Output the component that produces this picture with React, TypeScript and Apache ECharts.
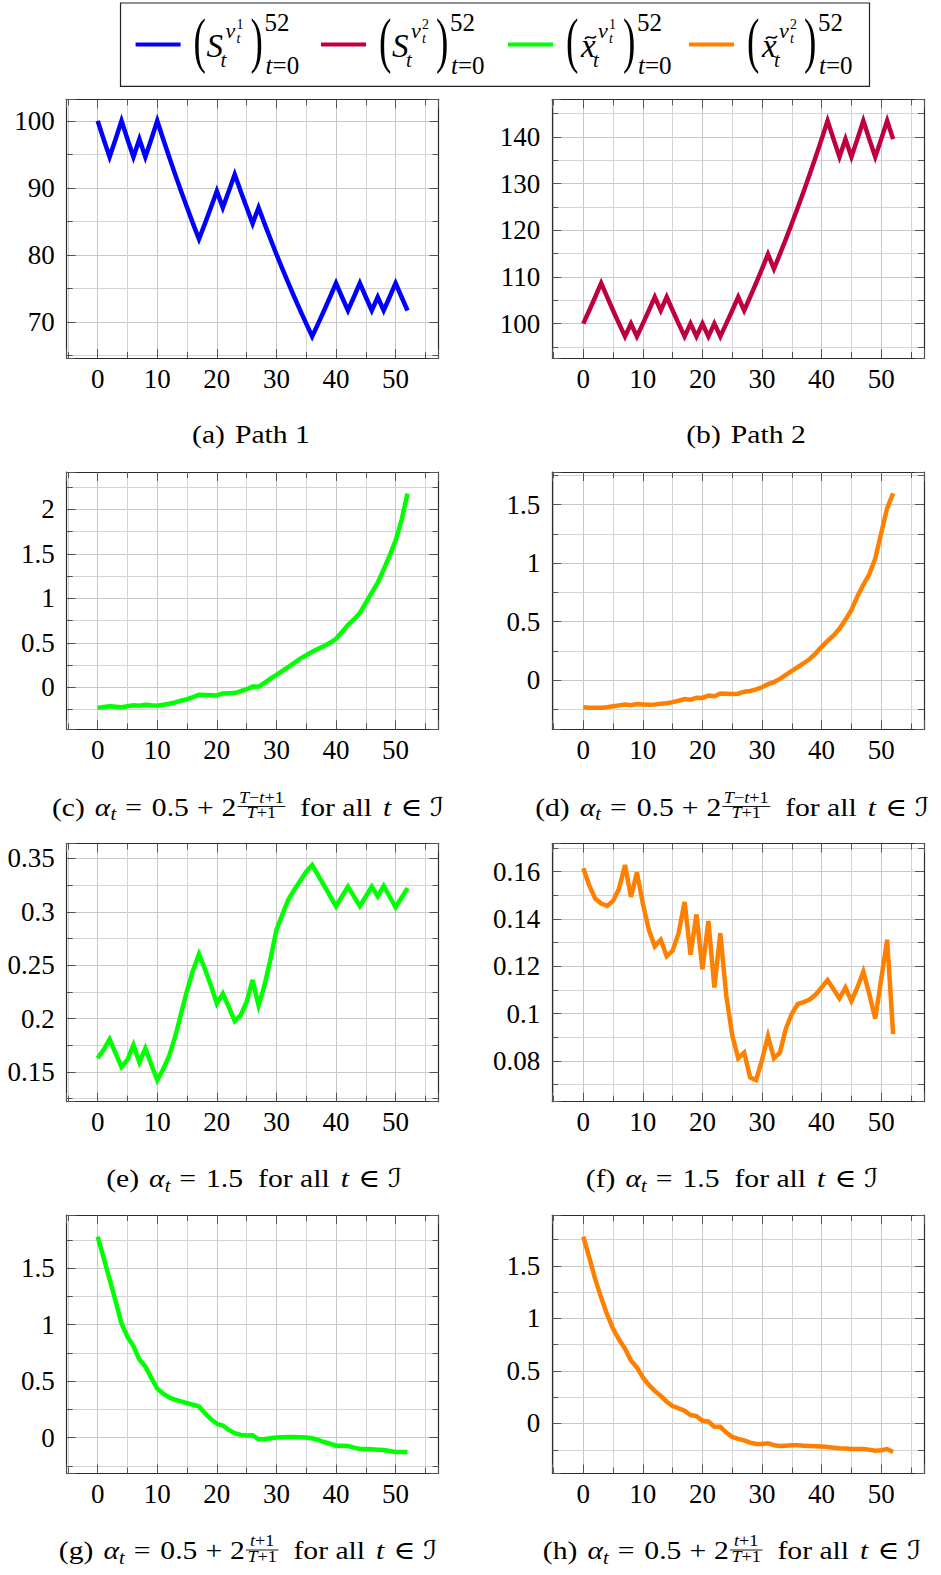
import React, { useEffect, useRef } from 'react';
import * as echarts from 'echarts';

const WIDTH = 941;
const HEIGHT = 1575;

// time steps t = 0..52
const weeks: number[] = Array.from({ length: 53 }, (_, i) => i);

// (a) price path 1
const pathOne = [
  100, 97.26, 94.6, 97.26, 100, 97.26, 94.6, 97.26, 94.6, 97.26, 100, 97.26, 94.6, 92.01, 89.5, 87.05, 84.66,
  82.35, 84.66, 87.05, 89.5, 87.05, 89.5, 92.01, 89.5, 87.05, 84.66, 87.05, 84.66, 82.35, 80.09, 77.9, 75.77,
  73.7, 71.68, 69.72, 67.81, 69.72, 71.68, 73.7, 75.77, 73.7, 71.68, 73.7, 75.77, 73.7, 71.68, 73.7, 71.68,
  73.7, 75.77, 73.7, 71.68,
];

// (b) price path 2
const pathTwo = [
  100, 102.81, 105.71, 108.68, 105.71, 102.81, 100, 97.26, 100, 97.26, 100, 102.81, 105.71, 102.81, 105.71,
  102.81, 100, 97.26, 100, 97.26, 100, 97.26, 100, 97.26, 100, 102.81, 105.71, 102.81, 105.71, 108.68, 111.74,
  114.88, 111.74, 114.88, 118.11, 121.44, 124.86, 128.36, 131.98, 135.69, 139.51, 143.43, 139.51, 135.69,
  139.51, 135.69, 139.51, 143.43, 139.51, 135.69, 139.51, 143.43, 139.51,
];

// (c) / (d) alpha_t = 0.5 + 2 (T-t+1)/(T+1)
const xOneDecreasing = [
  -0.232, -0.222, -0.215, -0.22, -0.224, -0.214, -0.203, -0.208, -0.197, -0.203, -0.207, -0.197, -0.185,
  -0.17, -0.152, -0.134, -0.112, -0.085, -0.087, -0.089, -0.092, -0.07, -0.068, -0.066, -0.045, -0.022, 0.008,
  0.006, 0.05, 0.096, 0.14, 0.184, 0.229, 0.275, 0.322, 0.36, 0.4, 0.432, 0.464, 0.5, 0.545, 0.62, 0.7, 0.762,
  0.835, 0.95, 1.065, 1.175, 1.325, 1.48, 1.65, 1.88, 2.18,
];
const xTwoDecreasing = [
  -0.23, -0.234, -0.235, -0.235, -0.23, -0.222, -0.214, -0.206, -0.212, -0.203, -0.206, -0.208, -0.207,
  -0.199, -0.196, -0.186, -0.174, -0.16, -0.165, -0.148, -0.15, -0.13, -0.136, -0.113, -0.115, -0.116, -0.114,
  -0.097, -0.091, -0.078, -0.059, -0.033, -0.015, 0.012, 0.046, 0.08, 0.113, 0.146, 0.182, 0.23, 0.285, 0.336,
  0.383, 0.44, 0.516, 0.6, 0.715, 0.815, 0.905, 1.04, 1.255, 1.47, 1.595,
];

// (e) / (f) alpha_t = 1.5
const xOneConstant = [
  0.163, 0.1707, 0.1806, 0.1676, 0.1546, 0.1614, 0.1753, 0.159, 0.1722, 0.157, 0.1423, 0.1528, 0.1651, 0.183,
  0.2047, 0.2263, 0.245, 0.2604, 0.2464, 0.231, 0.214, 0.2233, 0.2109, 0.1976, 0.2032, 0.2155, 0.2362, 0.2124,
  0.231, 0.2557, 0.283, 0.2975, 0.3114, 0.3206, 0.329, 0.3376, 0.3438, 0.334, 0.3246, 0.315, 0.3052, 0.3145,
  0.3237, 0.3145, 0.3052, 0.3145, 0.3237, 0.3145, 0.3243, 0.3143, 0.3042, 0.3132, 0.3222,
];
const xTwoConstant = [
  0.1614, 0.1542, 0.1486, 0.1465, 0.1455, 0.1476, 0.1528, 0.1628, 0.1493, 0.1597, 0.1465, 0.1354, 0.1284,
  0.1312, 0.1242, 0.1266, 0.134, 0.1472, 0.1249, 0.1419, 0.1187, 0.1391, 0.111, 0.134, 0.1075, 0.0908, 0.0811,
  0.0835, 0.073, 0.0718, 0.0804, 0.0904, 0.0811, 0.0835, 0.0936, 0.0999, 0.1041, 0.1048, 0.1059, 0.108, 0.111,
  0.1141, 0.1103, 0.1064, 0.111, 0.1052, 0.111, 0.1177, 0.1082, 0.0978, 0.1145, 0.1312, 0.0913,
];

// (g) / (h) alpha_t = 0.5 + 2 (t+1)/(T+1)
const xOneIncreasing = [
  1.779, 1.59, 1.4, 1.21, 1.01, 0.89, 0.81, 0.69, 0.63, 0.528, 0.433, 0.388, 0.356, 0.335, 0.32, 0.305, 0.291,
  0.276, 0.216, 0.163, 0.122, 0.107, 0.068, 0.039, 0.024, 0.018, 0.021, -0.015, -0.012, -0.006, 0, 0.003, 0.006,
  0.006, 0.003, 0, -0.006, -0.021, -0.039, -0.053, -0.071, -0.071, -0.074, -0.089, -0.101, -0.101, -0.104,
  -0.107, -0.11, -0.119, -0.127, -0.127, -0.127,
];
const xTwoIncreasing = [
  1.778, 1.58, 1.372, 1.197, 1.037, 0.9, 0.798, 0.712, 0.6, 0.533, 0.437, 0.367, 0.31, 0.262, 0.207, 0.166,
  0.144, 0.121, 0.08, 0.07, 0.026, 0.019, -0.032, -0.032, -0.086, -0.128, -0.147, -0.16, -0.182, -0.195, -0.195,
  -0.188, -0.207, -0.214, -0.211, -0.207, -0.207, -0.211, -0.214, -0.217, -0.22, -0.223, -0.23, -0.236, -0.239,
  -0.243, -0.243, -0.243, -0.249, -0.259, -0.255, -0.243, -0.271,
];

const BLUE = '#0000ff';
const PURPLE = '#bf0040';
const GREEN = '#00ff00';
const ORANGE = '#ff8000';

const SERIF = 'Liberation Serif, Times New Roman, serif';
const MATH_FONT = 'DejaVu Serif, serif';
const SCRIPT_FONT = 'DejaVu Sans, sans-serif';

const AXIS_COLOR = '#2b2b2b';
const TICK_COLOR = '#555555';
const GRID_COLOR = '#c8c8c8';
const MINOR_GRID_COLOR = '#d4d4d4';

// plot boxes
const LEFT = [66.7, 552.3];
const PLOT_W = 371.8;
const TOP = [99.3, 472, 843.5, 1215];
const PLOT_H = [258.7, 257.3, 258.2, 258.5];

interface Panel {
  values: number[];
  color: string;
  yStep: number;
  col: number;
  row: number;
}

const panels: Panel[] = [
  { values: pathOne, color: BLUE, yStep: 10, col: 0, row: 0 },
  { values: pathTwo, color: PURPLE, yStep: 10, col: 1, row: 0 },
  { values: xOneDecreasing, color: GREEN, yStep: 0.5, col: 0, row: 1 },
  { values: xTwoDecreasing, color: ORANGE, yStep: 0.5, col: 1, row: 1 },
  { values: xOneConstant, color: GREEN, yStep: 0.05, col: 0, row: 2 },
  { values: xTwoConstant, color: ORANGE, yStep: 0.02, col: 1, row: 2 },
  { values: xOneIncreasing, color: GREEN, yStep: 0.5, col: 0, row: 3 },
  { values: xTwoIncreasing, color: ORANGE, yStep: 0.5, col: 1, row: 3 },
];

// axis limits padded by 10% of the data range on each side
function paddedRange(vals: number[]): [number, number] {
  const lo = Math.min(...vals);
  const hi = Math.max(...vals);
  const pad = (hi - lo) * 0.1;
  return [lo - pad, hi + pad];
}

function tickLabel(step: number) {
  return (v: number) => {
    const k = v / step;
    return Math.abs(k - Math.round(k)) < 1e-6 ? String(parseFloat(v.toFixed(6))) : '';
  };
}

function axisPair(dim: 'x' | 'y', i: number, range: [number, number], step: number) {
  const base = {
    type: 'value',
    gridIndex: i,
    min: range[0],
    max: range[1],
    minInterval: step,
    maxInterval: step,
    splitNumber: 6,
    axisLine: { show: true, onZero: false, lineStyle: { color: AXIS_COLOR, width: 1.2 } },
    axisTick: { show: true, inside: true, length: 9, lineStyle: { color: TICK_COLOR, width: 1 } },
    minorTick: { show: true, splitNumber: 2, length: 6, lineStyle: { color: TICK_COLOR, width: 1 } },
  };
  const main = {
    ...base,
    position: dim === 'x' ? 'bottom' : 'left',
    splitLine: { show: true, lineStyle: { color: GRID_COLOR, width: 1 } },
    minorSplitLine: { show: true, lineStyle: { color: MINOR_GRID_COLOR, width: 1 } },
    axisLabel: {
      show: true,
      margin: dim === 'x' ? 7 : 12,
      color: '#000',
      fontFamily: SERIF,
      fontSize: 27,
      formatter: tickLabel(step),
      showMinLabel: true,
      showMaxLabel: true,
    },
  };
  const mirror = {
    ...base,
    position: dim === 'x' ? 'top' : 'right',
    splitLine: { show: false },
    minorSplitLine: { show: false },
    axisLabel: { show: false },
  };
  return [main, mirror];
}

// ---------- text helpers for the legend and the captions ----------
const CENTRAL = 0.3375;
let measurer: CanvasRenderingContext2D | null = null;

function fontString(size: number, italic: boolean, family: string) {
  return `${italic ? 'italic ' : ''}${size}px ${family}`;
}

function measure(s: string, size: number, italic: boolean, family: string) {
  if (!measurer) measurer = document.createElement('canvas').getContext('2d');
  measurer!.font = fontString(size, italic, family);
  return measurer!.measureText(s).width;
}

interface GlyphOpts {
  italic?: boolean;
  family?: string;
  scaleX?: number;
}

function glyph(s: string, x: number, baseline: number, size: number, opts: GlyphOpts = {}) {
  const family = opts.family ?? SERIF;
  const italic = !!opts.italic;
  return {
    type: 'text',
    x,
    y: baseline - CENTRAL * size,
    scaleX: opts.scaleX ?? 1,
    silent: true,
    style: {
      text: s,
      fill: '#000',
      fontSize: size,
      fontFamily: family,
      fontStyle: italic ? 'italic' : 'normal',
      align: 'left',
      verticalAlign: 'middle',
      textAlign: 'left',
      textVerticalAlign: 'middle',
    },
  };
}

interface Tok {
  s: string;
  size: number;
  it?: boolean;
  fam?: string;
  dy?: number;
  gap?: number;
}
interface Frac {
  num: Tok[];
  den: Tok[];
  gap?: number;
}
type Item = Tok | Frac;

// captions are set slightly wider than the font's natural width
const STRETCH = 1.14;

function tokWidth(t: Tok) {
  return measure(t.s, t.size, !!t.it, t.fam ?? SERIF) * STRETCH;
}

function runWidth(toks: Tok[]) {
  return toks.reduce((w, t) => w + (t.gap ?? 0) + tokWidth(t), 0);
}

function placeTok(t: Tok, x: number, baseline: number, out: any[]) {
  out.push(glyph(t.s, x, baseline + (t.dy ?? 0), t.size, { italic: t.it, family: t.fam, scaleX: STRETCH }));
}

function placeRun(toks: Tok[], x: number, baseline: number, out: any[]) {
  let cur = x;
  for (const t of toks) {
    cur += t.gap ?? 0;
    placeTok(t, cur, baseline, out);
    cur += tokWidth(t);
  }
}

function mathLine(items: Item[], cx: number, baseline: number) {
  const widths = items.map((it) =>
    'num' in it ? Math.max(runWidth(it.num), runWidth(it.den)) + 3 : tokWidth(it as Tok)
  );
  const total = items.reduce((s, it, k) => s + (it.gap ?? 0) + widths[k], 0);
  let cur = cx - total / 2;
  const out: any[] = [];
  items.forEach((it, k) => {
    cur += it.gap ?? 0;
    if ('num' in it) {
      const w = widths[k];
      placeRun(it.num, cur + (w - runWidth(it.num)) / 2, baseline - 12.5, out);
      placeRun(it.den, cur + (w - runWidth(it.den)) / 2, baseline + 3, out);
      out.push({
        type: 'line',
        silent: true,
        shape: { x1: cur, y1: baseline - 9, x2: cur + w, y2: baseline - 9 },
        style: { stroke: '#000', lineWidth: 0.9 },
      });
    } else {
      placeTok(it as Tok, cur, baseline, out);
    }
    cur += widths[k];
  });
  return out;
}

// ---------- captions ----------
const CAP = 26;
const CAP_SUB = 18;
const CAP_FRAC = 16;

function pathCaption(tag: string, n: string): Item[] {
  return [
    { s: `(${tag})`, size: CAP },
    { s: `Path ${n}`, size: CAP, gap: 10 },
  ];
}

function alphaCaption(tag: string, rhs: Item[]): Item[] {
  return [
    { s: `(${tag})`, size: CAP },
    { s: 'α', size: CAP, it: true, gap: 10 },
    { s: 't', size: CAP_SUB, it: true, dy: 5 },
    { s: '=', size: CAP, gap: 9 },
    ...rhs,
    { s: 'for all', size: CAP, gap: 15 },
    { s: 't', size: CAP, it: true, gap: 11 },
    { s: '∈', size: CAP, fam: MATH_FONT, gap: 9 },
    { s: 'ℐ', size: CAP, fam: SCRIPT_FONT, gap: 8 },
  ];
}

const decreasingRhs: Item[] = [
  { s: '0.5', size: CAP, gap: 10 },
  { s: '+', size: CAP, gap: 8 },
  { s: '2', size: CAP, gap: 8 },
  {
    num: [
      { s: 'T', size: CAP_FRAC, it: true },
      { s: '−', size: CAP_FRAC },
      { s: 't', size: CAP_FRAC, it: true },
      { s: '+1', size: CAP_FRAC },
    ],
    den: [
      { s: 'T', size: CAP_FRAC, it: true },
      { s: '+1', size: CAP_FRAC },
    ],
    gap: 1,
  },
];

const constantRhs: Item[] = [{ s: '1.5', size: CAP, gap: 10 }];

const increasingRhs: Item[] = [
  { s: '0.5', size: CAP, gap: 10 },
  { s: '+', size: CAP, gap: 8 },
  { s: '2', size: CAP, gap: 8 },
  {
    num: [
      { s: 't', size: CAP_FRAC, it: true },
      { s: '+1', size: CAP_FRAC },
    ],
    den: [
      { s: 'T', size: CAP_FRAC, it: true },
      { s: '+1', size: CAP_FRAC },
    ],
    gap: 1,
  },
];

const captions = [
  { items: pathCaption('a', '1'), cx: 251, base: 443 },
  { items: pathCaption('b', '2'), cx: 746, base: 443 },
  { items: alphaCaption('c', decreasingRhs), cx: 248, base: 815.5 },
  { items: alphaCaption('d', decreasingRhs), cx: 732, base: 815.5 },
  { items: alphaCaption('e', constantRhs), cx: 254, base: 1187 },
  { items: alphaCaption('f', constantRhs), cx: 732, base: 1187 },
  { items: alphaCaption('g', increasingRhs), cx: 248, base: 1559 },
  { items: alphaCaption('h', increasingRhs), cx: 732, base: 1559 },
];

// ---------- legend ----------
const LEGEND_LINE_X = [135.6, 321, 508, 689];
const LEGEND_COLORS = [BLUE, PURPLE, GREEN, ORANGE];
const LEGEND_Y = 44.5;

function paren(ch: string, x: number) {
  const size = 62;
  const yc = 45;
  return glyph(ch, x, yc + 0.255 * size, size, { scaleX: 0.6 });
}

function legendEntry(k: number) {
  const lx = LEGEND_LINE_X[k];
  const px = lx + 58;
  const isPrice = k < 2;
  const sup = k % 2 === 0 ? '1' : '2';
  const out: any[] = [];
  out.push({
    type: 'line',
    silent: true,
    shape: { x1: lx, y1: LEGEND_Y, x2: lx + 45, y2: LEGEND_Y },
    style: { stroke: LEGEND_COLORS[k], lineWidth: 4 },
  });
  out.push(paren('(', px));
  if (isPrice) {
    out.push(glyph('S', px + 13, 57, 33, { italic: true }));
  } else {
    out.push(glyph('x', px + 15, 57, 33, { italic: true }));
    // tilde accent over the x
    out.push({
      type: 'bezierCurve',
      silent: true,
      shape: {
        x1: px + 19,
        y1: 39,
        cpx1: px + 22.5,
        cpy1: 33.5,
        cpx2: px + 26.5,
        cpy2: 41.5,
        x2: px + 30,
        y2: 36,
      },
      style: { stroke: '#000', lineWidth: 1.5, fill: null },
    });
  }
  out.push(glyph('t', px + 27, 67, 21, { italic: true }));
  out.push(glyph('ν', px + 32, 38, 22, { italic: true }));
  out.push(glyph('t', px + 43, 43, 14, { italic: true }));
  out.push(glyph(sup, px + 43, 29, 14));
  out.push(paren(')', px + 57));
  out.push(glyph('52', px + 71, 31, 25));
  out.push(glyph('t', px + 72, 74, 25, { italic: true }));
  out.push(glyph('=0', px + 79, 74, 25));
  return out;
}

function buildOption() {
  const xRange = paddedRange(weeks);
  const grid: any[] = [];
  const xAxis: any[] = [];
  const yAxis: any[] = [];
  const series: any[] = [];
  panels.forEach((p, i) => {
    grid.push({
      left: LEFT[p.col],
      top: TOP[p.row],
      width: PLOT_W,
      height: PLOT_H[p.row],
      containLabel: false,
      outerBoundsMode: 'none',
      show: false,
    });
    xAxis.push(...axisPair('x', i, xRange, 10));
    yAxis.push(...axisPair('y', i, paddedRange(p.values), p.yStep));
    series.push({
      type: 'line',
      xAxisIndex: 2 * i,
      yAxisIndex: 2 * i,
      data: weeks.map((t, k) => [t, p.values[k]]),
      showSymbol: false,
      symbol: 'none',
      silent: true,
      clip: true,
      lineStyle: { color: p.color, width: 4.5, join: 'miter', miterLimit: 10, cap: 'butt' },
      itemStyle: { color: p.color },
    });
  });

  const elements: any[] = [
    {
      type: 'rect',
      silent: true,
      shape: { x: 120.5, y: 3, width: 749, height: 83.3 },
      style: { fill: '#fff', stroke: '#222', lineWidth: 1.2 },
    },
  ];
  for (let k = 0; k < 4; k++) elements.push(...legendEntry(k));
  for (const c of captions) elements.push(...mathLine(c.items, c.cx, c.base));

  return {
    animation: false,
    backgroundColor: '#ffffff',
    grid,
    xAxis,
    yAxis,
    series,
    graphic: { elements },
  };
}

export default function App() {
  const ref = useRef<HTMLDivElement>(null);
  useEffect(() => {
    if (!ref.current) return;
    const chart = echarts.init(ref.current, null, { renderer: 'svg', width: WIDTH, height: HEIGHT });
    chart.setOption(buildOption() as any);
    return () => chart.dispose();
  }, []);
  return (
    <div
      ref={ref}
      style={{ position: 'absolute', left: 0, top: 0, width: WIDTH, height: HEIGHT, background: '#fff' }}
    />
  );
}
